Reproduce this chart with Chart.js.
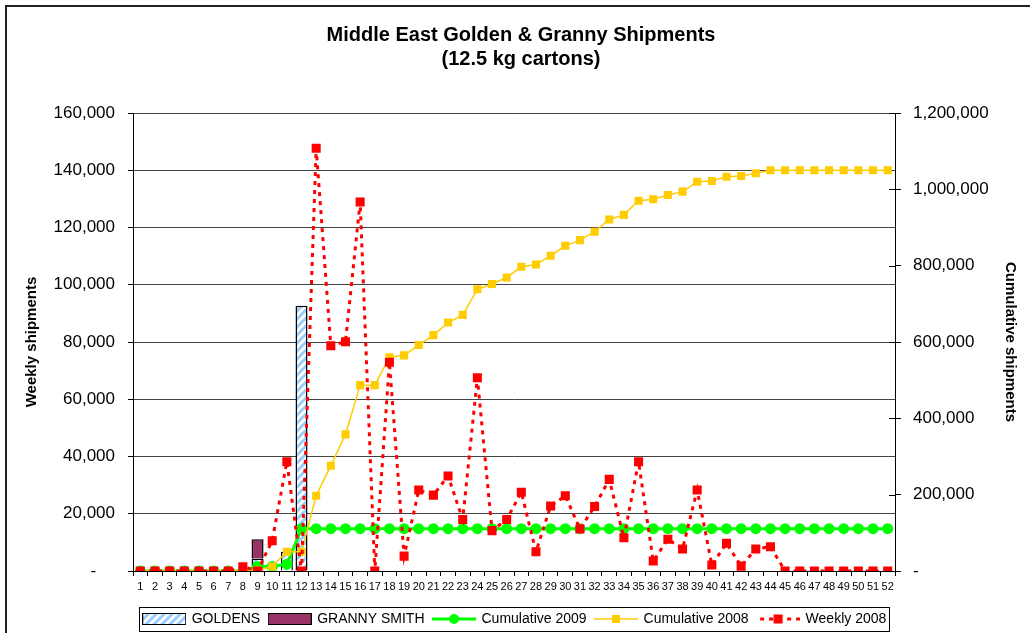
<!DOCTYPE html>
<html lang="en">
<head>
<meta charset="UTF-8">
<title>Middle East Golden &amp; Granny Shipments</title>
<style>
    html, body { margin: 0; padding: 0; background: #fff; overflow: hidden; }
    #wrap { position: relative; width: 1030px; height: 640px; }
</style>
</head>
<body>
<div id="wrap">
    <canvas id="shipChart" width="1030" height="640"></canvas>
</div>
<script src="https://cdn.jsdelivr.net/npm/chart.js@4.4.1/dist/chart.umd.min.js"></script>
<script>
    // week numbers on the x axis
    var weeks = ['1','2','3','4','5','6','7','8','9','10','11','12','13','14','15','16','17','18','19','20',
                 '21','22','23','24','25','26','27','28','29','30','31','32','33','34','35','36','37','38','39','40',
                 '41','42','43','44','45','46','47','48','49','50','51','52'];

    // 2009 weekly columns (cartons)
    var goldens = [null,null,null,null,null,null,null,null,4400,null,6700,92700,null,null,null,null,null,null,null,null,
                   null,null,null,null,null,null,null,null,null,null,null,null,null,null,null,null,null,null,null,null,
                   null,null,null,null,null,null,null,null,null,null,null,null];
    var grannySmith = [null,null,null,null,null,null,null,null,6700,null,null,null,null,null,null,null,null,null,null,null,
                       null,null,null,null,null,null,null,null,null,null,null,null,null,null,null,null,null,null,null,null,
                       null,null,null,null,null,null,null,null,null,null,null,null];

    // cumulative (right axis)
    var cumulative2009 = [0,0,0,0,0,0,0,0,12000,12000,18000,111000,111000,111000,111000,111000,111000,111000,111000,111000,
                          111000,111000,111000,111000,111000,111000,111000,111000,111000,111000,111000,111000,111000,111000,111000,111000,111000,111000,111000,111000,
                          111000,111000,111000,111000,111000,111000,111000,111000,111000,111000,111000,111000];
    var cumulative2008 = [0,0,0,0,0,0,0,2000,2000,12000,50600,50600,197000,276000,358000,487000,487000,560000,565000,592000,
                          618000,651000,671000,738000,752000,769000,797000,803000,826000,852000,867000,889000,921000,933000,970000,974000,985000,994000,1020000,1022000,
                          1033000,1035000,1042000,1050000,1050000,1050000,1050000,1050000,1050000,1050000,1050000,1050000];

    // weekly 2008 (left axis)
    var weekly2008 = [0,0,0,0,0,0,0,1500,0,10600,38200,0,147700,78700,80100,128900,0,72900,5200,28300,
                      26500,33200,18000,67500,14100,18000,27500,6700,22700,26300,14700,22500,32000,11600,38200,3500,11100,7700,28300,2100,
                      9700,1700,7700,8500,0,0,0,0,0,0,0,0];

    var FONT = "'Liberation Sans', Arial, sans-serif";
    Chart.defaults.font.family = FONT;
    Chart.defaults.color = '#000';

    var canvas = document.getElementById('shipChart');
    var ctx = canvas.getContext('2d');

    function makeHatch() {
        var c = document.createElement('canvas');
        c.width = 8; c.height = 8;
        var g = c.getContext('2d');
        g.fillStyle = '#fff';
        g.fillRect(0, 0, 8, 8);
        g.strokeStyle = '#99ccff';
        g.lineWidth = 3;
        g.beginPath();
        g.moveTo(-2, 10); g.lineTo(10, -2);
        g.moveTo(-2, 2); g.lineTo(2, -2);
        g.moveTo(6, 10); g.lineTo(10, 6);
        g.stroke();
        return ctx.createPattern(c, 'repeat');
    }
    var hatch = makeHatch();

    function icon(draw) {
        var c = document.createElement('canvas');
        c.width = 44; c.height = 14;
        draw(c.getContext('2d'));
        return c;
    }
    var legendIcons = [
        icon(function (g) {
            g.fillStyle = hatch; g.fillRect(1, 2, 42, 10);
            g.strokeStyle = '#000'; g.lineWidth = 1; g.strokeRect(0.5, 1.5, 43, 11);
        }),
        icon(function (g) {
            g.fillStyle = '#993366'; g.fillRect(1, 2, 42, 10);
            g.strokeStyle = '#000'; g.lineWidth = 1; g.strokeRect(0.5, 1.5, 43, 11);
        }),
        icon(function (g) {
            g.strokeStyle = '#00ff00'; g.lineWidth = 3;
            g.beginPath(); g.moveTo(0, 7); g.lineTo(44, 7); g.stroke();
            g.fillStyle = '#00ff00';
            g.beginPath(); g.arc(22, 7, 5, 0, Math.PI * 2); g.fill();
        }),
        icon(function (g) {
            g.strokeStyle = '#ffcc00'; g.lineWidth = 1.5;
            g.beginPath(); g.moveTo(0, 7); g.lineTo(44, 7); g.stroke();
            g.fillStyle = '#ffcc00'; g.fillRect(18, 3, 8, 8);
        }),
        icon(function (g) {
            g.strokeStyle = '#ff0000'; g.lineWidth = 3;
            g.setLineDash([4, 5]); g.lineDashOffset = -4;
            g.beginPath(); g.moveTo(0, 7); g.lineTo(44, 7); g.stroke();
            g.fillStyle = '#ff0000'; g.fillRect(17.5, 2.5, 9, 9);
        })
    ];

    // Excel accounting style: zero shows as a dash
    function fmtLeft(v) {
        return v === 0 ? '-    ' : v.toLocaleString('en-US');
    }
    function fmtRight(v) {
        return v === 0 ? '-' : v.toLocaleString('en-US');
    }

    // outer chart frame + legend box + inner ticks of the right axis
    var decorations = {
        id: 'decorations',
        afterLayout: function (chart) {
            // title sits a little right of the canvas centre
            chart.titleBlock.left += 12;
        },
        beforeDraw: function (chart) {
            var c = chart.ctx;
            c.save();
            c.strokeStyle = '#222';
            c.lineWidth = 2;
            c.strokeRect(6, 6, 1100, 700);
            c.restore();
        },
        afterDraw: function (chart) {
            var c = chart.ctx;
            var lg = chart.legend;
            var boxes = lg.legendHitBoxes;
            var first = boxes[0], last = boxes[boxes.length - 1];
            c.save();
            c.strokeStyle = '#000';
            c.lineWidth = 1;
            var l = Math.round(first.left) - 4.5;
            var r = Math.round(last.left + last.width) + 3.5;
            var t = Math.round(first.top) - 4.5;
            c.strokeRect(l, t, r - l, 24);

            var s = chart.scales.y2;
            c.beginPath();
            s.ticks.forEach(function (tk) {
                var y = Math.round(s.getPixelForValue(tk.value)) + 0.5;
                c.moveTo(s.left - 6, y);
                c.lineTo(s.left, y);
            });
            c.stroke();
            c.restore();
        }
    };

    new Chart(ctx, {
        type: 'bar',
        data: {
            labels: weeks,
            datasets: [
                {
                    label: 'GOLDENS',
                    data: goldens,
                    backgroundColor: hatch,
                    borderColor: '#000',
                    borderWidth: 1.5,
                    stack: 'apples',
                    yAxisID: 'y',
                    order: 3,
                    barPercentage: 0.82,
                    categoryPercentage: 1
                },
                {
                    label: 'GRANNY SMITH',
                    data: grannySmith,
                    backgroundColor: '#993366',
                    borderColor: '#000',
                    borderWidth: 1.5,
                    stack: 'apples',
                    yAxisID: 'y',
                    order: 4,
                    barPercentage: 0.82,
                    categoryPercentage: 1
                },
                {
                    type: 'line',
                    label: 'Cumulative 2009',
                    data: cumulative2009,
                    yAxisID: 'y2',
                    borderColor: '#00ff00',
                    backgroundColor: '#00ff00',
                    borderWidth: 3,
                    pointStyle: 'circle',
                    pointRadius: 5.5,
                    pointBorderWidth: 0,
                    tension: 0,
                    order: 2
                },
                {
                    type: 'line',
                    label: 'Cumulative 2008',
                    data: cumulative2008,
                    yAxisID: 'y2',
                    borderColor: '#ffcc00',
                    backgroundColor: '#ffcc00',
                    borderWidth: 1.5,
                    pointStyle: 'rect',
                    pointRadius: 5.7,
                    pointBorderWidth: 0,
                    tension: 0,
                    order: 1
                },
                {
                    type: 'line',
                    label: 'Weekly 2008',
                    data: weekly2008,
                    yAxisID: 'y',
                    stack: 'weekly',
                    borderColor: '#ff0000',
                    backgroundColor: '#ff0000',
                    borderWidth: 3,
                    borderDash: [4, 5],
                    pointStyle: 'rect',
                    pointRadius: 6.4,
                    pointBorderWidth: 0,
                    tension: 0,
                    order: 0
                }
            ]
        },
        options: {
            responsive: false,
            animation: false,
            devicePixelRatio: 1,
            layout: { padding: { top: 0, left: 0, right: 0, bottom: 4 } },
            plugins: {
                title: {
                    display: true,
                    text: ['Middle East Golden & Granny Shipments', '(12.5 kg cartons)'],
                    color: '#000',
                    font: { size: 20, weight: 'bold', lineHeight: 1.2 },
                    padding: { top: 23, bottom: 42 }
                },
                legend: {
                    position: 'bottom',
                    labels: {
                        usePointStyle: true,
                        pointStyleWidth: 41,
                        padding: 9,
                        color: '#000',
                        font: { size: 14 },
                        generateLabels: function (chart) {
                            return chart.data.datasets.map(function (ds, i) {
                                return {
                                    text: ds.label,
                                    pointStyle: legendIcons[i],
                                    datasetIndex: i,
                                    hidden: false,
                                    lineWidth: 0,
                                    strokeStyle: 'rgba(0,0,0,0)',
                                    fillStyle: 'rgba(0,0,0,0)',
                                    fontColor: '#000'
                                };
                            });
                        }
                    }
                },
                tooltip: { enabled: false }
            },
            scales: {
                x: {
                    stacked: true,
                    offset: true,
                    grid: { offset: true, drawOnChartArea: false, tickLength: 5, color: '#000', tickColor: '#000' },
                    border: { color: '#000', width: 1 },
                    ticks: { autoSkip: false, maxRotation: 0, minRotation: 0, padding: 4, font: { size: 11 }, color: '#000' },
                    afterFit: function (s) { s.height = 32; }
                },
                y: {
                    position: 'left',
                    stacked: true,
                    min: 0,
                    max: 160000,
                    ticks: { stepSize: 20000, padding: 13, font: { size: 17 }, color: '#000', callback: fmtLeft },
                    grid: { color: '#444', tickColor: '#000', tickLength: 5 },
                    border: { color: '#000', width: 1 },
                    title: {
                        display: true,
                        text: 'Weekly shipments',
                        color: '#000',
                        font: { size: 15, weight: 'bold', lineHeight: 1.2 },
                        padding: { top: 23, bottom: 0 }
                    },
                    afterFit: function (s) { s.width = 133; }
                },
                y2: {
                    position: 'right',
                    min: 0,
                    max: 1200000,
                    ticks: { stepSize: 200000, padding: 12, font: { size: 17 }, color: '#000', callback: fmtRight },
                    grid: { drawOnChartArea: false, color: '#000', tickColor: '#000', tickLength: 6 },
                    border: { color: '#000', width: 1 },
                    title: {
                        display: true,
                        text: 'Cumulative shipments',
                        color: '#000',
                        font: { size: 15, weight: 'bold', lineHeight: 1.2 },
                        padding: { top: 11, bottom: 0 }
                    },
                    afterFit: function (s) { s.width = 135; }
                }
            }
        },
        plugins: [decorations]
    });
</script>
</body>
</html>
